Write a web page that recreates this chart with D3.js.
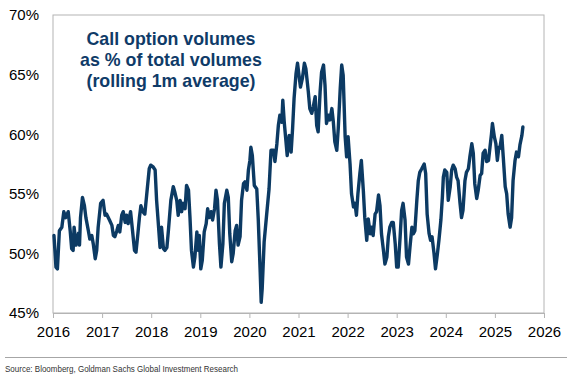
<!DOCTYPE html>
<html>
<head>
<meta charset="utf-8">
<script src="https://cdn.jsdelivr.net/npm/d3@7"></script>
<style>
  body { margin: 0; background: #fff; }
  svg { display: block; font-family: "Liberation Sans", Arial, sans-serif; }
</style>
</head>
<body>
<div id="chart"></div>
<script>
// call option share of total volumes, rolling 1m avg
var years = [
  2016.02, 2016.06, 2016.09, 2016.13, 2016.18, 2016.22, 2016.26, 2016.31, 2016.35, 2016.38,
  2016.41, 2016.43, 2016.47, 2016.52, 2016.54, 2016.56, 2016.60, 2016.64, 2016.67, 2016.72,
  2016.75, 2016.79, 2016.82, 2016.86, 2016.89, 2016.92, 2016.97, 2017.02, 2017.06, 2017.09,
  2017.15, 2017.20, 2017.23, 2017.26, 2017.30, 2017.33, 2017.36, 2017.40, 2017.43, 2017.47,
  2017.50, 2017.53, 2017.58, 2017.62, 2017.66, 2017.69, 2017.73, 2017.76, 2017.79, 2017.83,
  2017.87, 2017.91, 2017.96, 2017.99, 2018.04, 2018.08, 2018.11, 2018.14, 2018.18, 2018.21,
  2018.25, 2018.28, 2018.32, 2018.35, 2018.40, 2018.45, 2018.48, 2018.52, 2018.55, 2018.59,
  2018.62, 2018.65, 2018.69, 2018.72, 2018.76, 2018.79, 2018.82, 2018.86, 2018.89, 2018.93,
  2018.96, 2018.98, 2019.01, 2019.04, 2019.08, 2019.12, 2019.15, 2019.18, 2019.22, 2019.25,
  2019.29, 2019.32, 2019.35, 2019.39, 2019.42, 2019.46, 2019.49, 2019.54, 2019.57, 2019.60,
  2019.64, 2019.67, 2019.71, 2019.74, 2019.77, 2019.81, 2019.84, 2019.88, 2019.91, 2019.95,
  2019.98, 2020.01, 2020.03, 2020.06, 2020.10, 2020.15, 2020.18, 2020.22, 2020.24, 2020.26,
  2020.30, 2020.35, 2020.40, 2020.44, 2020.49, 2020.52, 2020.56, 2020.59, 2020.62, 2020.66,
  2020.68, 2020.71, 2020.74, 2020.77, 2020.81, 2020.85, 2020.88, 2020.91, 2020.95, 2020.98,
  2021.01, 2021.04, 2021.08, 2021.12, 2021.15, 2021.20, 2021.23, 2021.27, 2021.30, 2021.34,
  2021.37, 2021.40, 2021.44, 2021.47, 2021.51, 2021.54, 2021.57, 2021.61, 2021.64, 2021.68,
  2021.71, 2021.74, 2021.78, 2021.81, 2021.85, 2021.88, 2021.91, 2021.95, 2021.98, 2022.01,
  2022.05, 2022.08, 2022.12, 2022.15, 2022.18, 2022.21, 2022.25, 2022.28, 2022.32, 2022.35,
  2022.39, 2022.42, 2022.46, 2022.49, 2022.52, 2022.56, 2022.59, 2022.63, 2022.66, 2022.69,
  2022.73, 2022.76, 2022.80, 2022.83, 2022.86, 2022.90, 2022.93, 2022.97, 2023.00, 2023.03,
  2023.07, 2023.10, 2023.13, 2023.17, 2023.20, 2023.24, 2023.27, 2023.31, 2023.34, 2023.37,
  2023.41, 2023.44, 2023.47, 2023.51, 2023.56, 2023.59, 2023.62, 2023.66, 2023.69, 2023.72,
  2023.76, 2023.79, 2023.83, 2023.86, 2023.90, 2023.93, 2023.95, 2023.98, 2024.02, 2024.05,
  2024.09, 2024.12, 2024.15, 2024.19, 2024.22, 2024.25, 2024.29, 2024.32, 2024.35, 2024.39,
  2024.42, 2024.46, 2024.49, 2024.53, 2024.56, 2024.59, 2024.63, 2024.66, 2024.70, 2024.73,
  2024.76, 2024.80, 2024.83, 2024.87, 2024.90, 2024.93, 2024.95, 2024.99, 2025.02, 2025.05,
  2025.08, 2025.10, 2025.14, 2025.17, 2025.21, 2025.24, 2025.27, 2025.31, 2025.34, 2025.37,
  2025.41, 2025.44, 2025.48, 2025.51, 2025.55, 2025.57
];
var callShare = [
  51.5, 48.85, 48.7, 51.9, 52.2, 53.5, 53.0, 53.5, 51.9, 50.4,
  50.25, 52.2, 50.7, 51.7, 50.7, 53.0, 54.7, 54.0, 53.0, 51.9,
  51.2, 51.5, 50.8, 49.55, 50.25, 52.2, 54.2, 54.45, 53.2, 53.3,
  52.8, 52.35, 51.5, 51.4, 51.9, 52.35, 51.8, 53.2, 53.5, 52.6,
  53.2, 52.5, 53.5, 51.9, 50.25, 50.1, 51.7, 53.0, 54.0, 53.5,
  53.3, 55.0, 57.1, 57.4, 57.25, 57.0, 54.45, 52.8, 50.5, 52.2,
  50.4, 50.25, 50.5, 51.9, 54.45, 55.6, 55.15, 54.45, 53.2, 54.45,
  53.5, 54.2, 53.75, 55.7, 55.3, 53.0, 50.25, 48.85, 49.7, 51.8,
  50.25, 51.5, 48.7, 49.4, 51.8, 52.5, 53.75, 53.0, 53.5, 52.8,
  53.75, 55.3, 54.45, 50.8, 48.85, 50.8, 54.2, 55.3, 54.7, 51.65,
  49.3, 50.0, 51.9, 52.35, 50.7, 51.4, 54.45, 55.85, 56.0, 55.3,
  57.0, 57.8, 58.9, 58.2, 55.7, 55.4, 52.9, 48.4, 45.9, 47.0,
  50.95, 53.2, 55.4, 58.65, 58.65, 57.7, 59.2, 60.75, 61.6, 61.0,
  62.85, 61.0, 59.6, 58.2, 59.9, 58.5, 60.5, 63.0, 65.1, 65.95,
  64.95, 63.95, 64.7, 65.95, 65.5, 63.55, 62.15, 61.75, 62.3, 63.15,
  60.75, 60.2, 63.55, 65.2, 65.8, 64.1, 60.9, 61.6, 61.2, 62.15,
  61.0, 59.35, 58.65, 60.5, 63.85, 65.8, 64.95, 59.8, 58.1, 59.8,
  57.5, 55.0, 53.9, 54.2, 53.2, 55.0, 56.7, 57.8, 55.3, 53.0,
  51.1, 52.9, 51.65, 52.2, 51.5, 53.3, 53.5, 54.9, 54.0, 51.65,
  50.25, 49.1, 49.7, 51.4, 52.2, 52.6, 52.6, 50.8, 48.85, 48.85,
  51.4, 53.6, 54.2, 52.8, 49.7, 49.1, 50.5, 52.2, 51.65, 51.9,
  54.45, 56.1, 56.8, 57.1, 57.5, 56.7, 53.3, 51.65, 51.1, 51.4,
  50.0, 48.7, 50.0, 51.1, 52.8, 54.7, 56.4, 57.0, 56.8, 54.45,
  55.6, 57.0, 57.4, 57.1, 56.4, 56.1, 54.2, 53.0, 53.6, 56.1,
  56.8, 57.1, 58.1, 59.2, 58.4, 55.85, 54.6, 55.3, 56.55, 56.7,
  58.4, 58.65, 57.7, 57.8, 58.9, 60.0, 60.9, 59.75, 59.2, 57.8,
  58.9, 58.8, 59.9, 58.1, 55.6, 55.0, 53.3, 52.2, 53.0, 56.1,
  57.8, 58.5, 58.1, 59.1, 59.9, 60.6
];
var xTicks = [2016, 2017, 2018, 2019, 2020, 2021, 2022, 2023, 2024, 2025, 2026];
var yTicks = [45, 50, 55, 60, 65, 70];
var titleLines = ["Call option volumes", "as % of total volumes", "(rolling 1m average)"];
var sourceText = "Source: Bloomberg, Goldman Sachs Global Investment Research";

var W = 572, H = 381;
var margin = {top: 15, right: 28, bottom: 68, left: 53};

var svg = d3.select("#chart").append("svg")
    .attr("width", W)
    .attr("height", H);

var x = d3.scaleLinear().domain([2016, 2026]).range([margin.left, W - margin.right]);
var y = d3.scaleLinear().domain([45, 70]).range([H - margin.bottom, margin.top]);

// plot frame
svg.append("rect")
    .attr("x", x(2016)).attr("y", y(70))
    .attr("width", x(2026) - x(2016)).attr("height", y(45) - y(70))
    .attr("fill", "none").attr("stroke", "#b4b4b4").attr("stroke-width", 1);

// x axis
var xAxis = svg.append("g")
    .attr("transform", "translate(0," + y(45) + ")")
    .call(d3.axisBottom(x).tickValues(xTicks).tickFormat(d3.format("d")).tickSize(5).tickPadding(8));
xAxis.select(".domain").attr("stroke", "#b4b4b4");
xAxis.selectAll(".tick line").attr("stroke", "#b4b4b4");
xAxis.selectAll("text").attr("font-size", 15).attr("fill", "#000")
    .attr("font-family", "'Liberation Sans', Arial, sans-serif");

// y axis (labels only)
var yAxis = svg.append("g")
    .attr("transform", "translate(" + x(2016) + ",0)")
    .call(d3.axisLeft(y).tickValues(yTicks).tickFormat(function(d) { return d + "%"; }).tickSize(0).tickPadding(14));
yAxis.select(".domain").remove();
yAxis.selectAll("text").attr("font-size", 15).attr("fill", "#000")
    .attr("font-family", "'Liberation Sans', Arial, sans-serif");

// the series
var line = d3.line()
    .x(function(d, i) { return x(years[i]); })
    .y(function(d) { return y(d); });

svg.append("path")
    .datum(callShare)
    .attr("d", line)
    .attr("fill", "none")
    .attr("stroke", "#0c3a63")
    .attr("stroke-width", 3.4)
    .attr("stroke-linejoin", "round")
    .attr("stroke-linecap", "round");

// title block
svg.append("g").selectAll("text")
    .data(titleLines)
    .enter().append("text")
    .attr("x", 171)
    .attr("y", function(d, i) { return 45 + i * 21; })
    .attr("text-anchor", "middle")
    .attr("font-size", 17.8)
    .attr("font-weight", "bold")
    .attr("fill", "#0f3b68")
    .text(function(d) { return d; });

// source line
svg.append("line")
    .attr("x1", 5).attr("x2", 567)
    .attr("y1", 357.5).attr("y2", 357.5)
    .attr("stroke", "#a6a6a6").attr("stroke-width", 1.2);

svg.append("text")
    .attr("x", 5).attr("y", 372)
    .attr("font-size", 9.5)
    .attr("font-family", "'Liberation Sans Narrow', 'Arial Narrow', 'Liberation Sans', sans-serif")
    .attr("fill", "#333")
    .attr("textLength", 233)
    .attr("lengthAdjust", "spacingAndGlyphs")
    .text(sourceText);
</script>
</body>
</html>
